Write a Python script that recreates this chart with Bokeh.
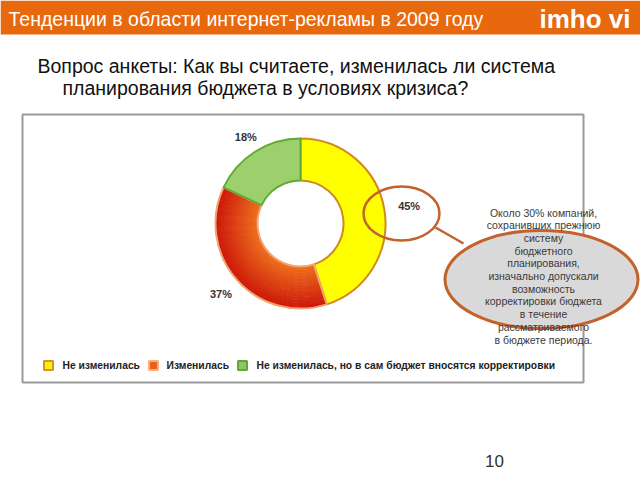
import math
from bokeh.plotting import figure
from bokeh.models import Range1d
from bokeh.core.properties import value
from bokeh.embed import file_html
from bokeh.resources import INLINE

# ---------------- data ----------------
title = "Тенденции в области интернет-рекламы в 2009 году"
logo = "imho vi"
question = ["Вопрос анкеты: Как вы считаете, изменилась ли система",
            "планирования бюджета в условиях кризиса?"]
categories = ["Не изменилась", "Изменилась",
              "Не изменилась, но в сам бюджет вносятся корректировки"]
shares = [45, 37, 18]
pct_labels = ["45%", "37%", "18%"]
note_lines = ["Около 30% компаний,", "сохранивших прежнюю", "систему",
              "бюджетного", "планирования,", "изначально допускали",
              "возможность", "корректировки бюджета", "в течение",
              "рассматриваемого", "в бюджете периода."]
page_number = "10"

# ---------------- styles ----------------
ORANGE = "#E8680E"
slice_fill = ["#FFFF00", "#E03A10", "#9BD06C"]
slice_line = ["#D08A22", "#F2A470", "#62AA36"]
legend_fill = ["#FFF200", "#E8601A", "#8CC862"]
legend_line = ["#D8902A", "#F4B080", "#62A63A"]
FONT = value("Liberation Sans")

W, H = 640, 480


def Y(py):
    return H - py


p = figure(width=W, height=H, output_backend="svg", toolbar_location=None,
           x_range=Range1d(0, W), y_range=Range1d(0, H), min_border=0)
p.axis.visible = False
p.grid.visible = False
p.outline_line_color = None
p.background_fill_color = "white"
p.border_fill_color = "white"

# header bar
p.quad(left=[0], right=[W], bottom=[Y(34)], top=[Y(0)], fill_color=ORANGE, line_color=None)
p.text(x=[8], y=[Y(18)], text=[title], text_font=FONT, text_font_size="19.5px",
       text_color="white", text_baseline="middle", text_align="left")
p.text(x=[630], y=[Y(18)], text=[logo], text_font=FONT, text_font_size="26px",
       text_font_style="bold", text_color="white", text_baseline="middle", text_align="right")

# question
p.text(x=[37, 62], y=[Y(65), Y(87)], text=question, text_font=FONT, text_font_size="19.5px",
       text_color="#111111", text_baseline="middle", text_align="left")

# chart frame
p.quad(left=[22], right=[583], bottom=[Y(382)], top=[Y(114)], fill_color=None,
       line_color="#9A9A9A", line_width=2)

# donut
cx, cy = 300, Y(223)
r_in, r_out = 43, 85
start = 90.0
mids = []
for i, s in enumerate(shares):
    end = start - s * 3.6
    a0, a1 = math.radians(start), math.radians(end)
    if i == 1:
        n = 14
        c_in = (236, 108, 28)
        c_out = (206, 26, 10)
        step = (r_out - r_in) / n
        for k in range(n):
            t = k / (n - 1)
            col = tuple(int(c_in[j] + (c_out[j] - c_in[j]) * t) for j in range(3))
            p.annular_wedge(x=cx, y=cy, inner_radius=r_in + k * step,
                            outer_radius=r_in + (k + 1) * step + 0.5,
                            start_angle=a0, end_angle=a1, direction="clock",
                            fill_color="#%02x%02x%02x" % col, line_color=None)
        p.annular_wedge(x=cx, y=cy, inner_radius=r_in, outer_radius=r_out,
                        start_angle=a0, end_angle=a1, direction="clock",
                        fill_color=None, line_color=slice_line[i], line_width=2)
    else:
        p.annular_wedge(x=cx, y=cy, inner_radius=r_in, outer_radius=r_out,
                        start_angle=a0, end_angle=a1, direction="clock",
                        fill_color=slice_fill[i], line_color=slice_line[i], line_width=2)
    mids.append(math.radians((start + end) / 2))
    start = end

lab_r = [110, 106, 102]
lx = [cx + lab_r[i] * math.cos(m) for i, m in enumerate(mids)]
ly = [cy + lab_r[i] * math.sin(m) for i, m in enumerate(mids)]
p.text(x=lx, y=ly, text=pct_labels, text_font=FONT, text_font_size="11px",
       text_font_style="bold", text_color="#333333", text_align="center",
       text_baseline="middle")

# callout
CALLOUT = "#C4622D"
p.segment(x0=[435], y0=[Y(227)], x1=[463], y1=[Y(243)], line_color=CALLOUT, line_width=2.5)
p.ellipse(x=[401], y=[Y(213)], width=[76], height=[54], fill_color=None,
          line_color=CALLOUT, line_width=2.5)
p.ellipse(x=[541], y=[Y(279)], width=[193], height=[98], fill_color="#D9D9D9",
          line_color=CALLOUT, line_width=3)
p.text(x=[543] * len(note_lines), y=[Y(212 + 12.7 * i) for i in range(len(note_lines))],
       text=note_lines, text_font=FONT, text_font_size="10.5px", text_color="#3A3A3A",
       text_align="center", text_baseline="middle")

# legend
sq_x = [48, 153, 242]
tx_x = [62, 166, 256]
ly_leg = Y(365)
p.rect(x=sq_x, y=[ly_leg] * 3, width=9, height=9, fill_color=legend_fill,
       line_color=legend_line, line_width=2)
p.text(x=tx_x, y=[ly_leg] * 3, text=categories, text_font=FONT, text_font_size="10.3px",
       text_font_style="bold", text_color="#222222", text_align="left",
       text_baseline="middle")

# page number
p.text(x=[494], y=[Y(460)], text=[page_number], text_font=FONT, text_font_size="17px",
       text_color="#333333", text_align="center", text_baseline="middle")

open("out.html", "w").write(file_html(p, INLINE))
